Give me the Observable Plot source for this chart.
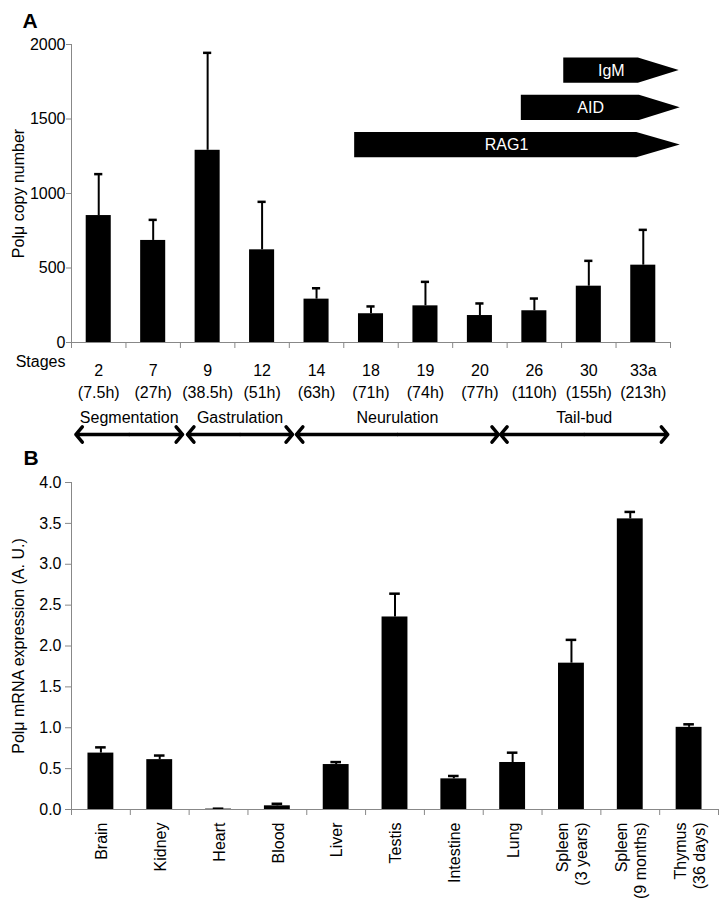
<!DOCTYPE html>
<html><head><meta charset="utf-8">
<script src="https://cdn.jsdelivr.net/npm/d3@7"></script>
<script src="https://cdn.jsdelivr.net/npm/@observablehq/plot@0.6"></script>
<style>
body{margin:0;background:#fff;}
#wrap{position:relative;width:725px;height:909px;overflow:hidden;}
#wrap > svg{position:absolute;left:0;}
</style></head><body><div id="wrap"></div>
<script>
// ---------- Panel A data ----------
const stages = ["2","7","9","12","14","18","19","20","26","30","33a"];
const stageHours = ["(7.5h)","(27h)","(38.5h)","(51h)","(63h)","(71h)","(74h)","(77h)","(110h)","(155h)","(213h)"];
const copyNumber = [852, 685, 1290, 622, 291, 193, 246, 181, 213, 378, 519];
const copyNumberSD = [278, 138, 654, 322, 73, 49, 161, 81, 82, 170, 237];
const copyTicks = [0, 500, 1000, 1500, 2000];

// developmental phases (extent along the stage axis, in stage-index units)
const phases = ["Segmentation", "Gastrulation", "Neurulation", "Tail-bud"];
const phaseFrom = [-0.42, 1.63, 3.63, 7.38];
const phaseTo = [1.54, 3.56, 7.34, 10.45];

// gene expression onset arrows (stage-index units)
const genes = ["IgM", "AID", "RAG1"];
const geneFrom = [8.54, 7.76, 4.70];
const geneNotch = [9.91, 9.93, 9.88];
const geneTip = [10.66, 10.68, 10.68];

// ---------- Panel B data ----------
const tissues = ["Brain","Kidney","Heart","Blood","Liver","Testis","Intestine","Lung","Spleen\n(3 years)","Spleen\n(9 months)","Thymus\n(36 days)"];
const expression = [0.69, 0.61, 0.005, 0.045, 0.55, 2.355, 0.375, 0.575, 1.79, 3.555, 1.005];
const expressionSD = [0.07, 0.05, 0.005, 0.025, 0.03, 0.285, 0.035, 0.12, 0.285, 0.085, 0.037];
const exprTicks = [0, 0.5, 1, 1.5, 2, 2.5, 3, 3.5, 4];

const font = "'Liberation Sans', Arial, sans-serif";
const gray = "#888";
const wrap = document.getElementById("wrap");

// ---------- Panel A ----------
const idxA = d3.range(stages.length);
const dataA = idxA.map(i => ({i, v: copyNumber[i], e: copyNumber[i] + copyNumberSD[i]}));
const rowCenter = r => 1825 - r * 250;
const rowHalf = 85;
const geneShapes = genes.flatMap((g, r) => [
  {g, x: geneFrom[r], y1: rowCenter(r) - rowHalf, y2: rowCenter(r) + rowHalf},
  {g, x: geneNotch[r], y1: rowCenter(r) - rowHalf, y2: rowCenter(r) + rowHalf},
  {g, x: geneTip[r], y1: rowCenter(r), y2: rowCenter(r)}
]);
const phaseMid = (d, i) => (phaseFrom[i] + phaseTo[i]) / 2;

const plotA = Plot.plot({
  width: 725, height: 450,
  marginLeft: 71, marginRight: 55, marginTop: 44, marginBottom: 108,
  x: {domain: [-0.5, stages.length - 0.5]},
  y: {domain: [0, 2000]},
  style: {fontFamily: font, fontSize: "16px", background: "transparent", overflow: "visible", color: "black"},
  marks: [
    Plot.rect(dataA, {x1: d => d.i - 0.23, x2: d => d.i + 0.23, y1: 0, y2: "v", fill: "black"}),
    Plot.ruleX(dataA, {x: "i", y1: "v", y2: "e", stroke: "black", strokeWidth: 2}),
    Plot.ruleY(dataA, {y: "e", x1: d => d.i - 0.075, x2: d => d.i + 0.075, stroke: "black", strokeWidth: 2.5}),
    Plot.ruleY([0], {stroke: gray}),
    Plot.ruleX([-0.5], {stroke: gray}),
    Plot.axisY({ticks: copyTicks, tickFormat: d => String(d), tickSize: 5, tickPadding: 1, stroke: gray, fill: "black", label: null, fontSize: 16}),
    Plot.axisX({ticks: d3.range(-0.5, stages.length), tickSize: 6, tickFormat: () => "", stroke: gray, label: null}),
    Plot.axisX({ticks: idxA, tickSize: 0, tickPadding: 18, tickFormat: i => stages[i] + "\n" + stageHours[i], lineHeight: 1.375, label: null, fontSize: 16, fill: "black"}),
    Plot.text(["Stages"], {frameAnchor: "bottom-left", dx: -6, dy: 24, textAnchor: "end", fontSize: 16}),
    Plot.text(["Polμ copy number"], {frameAnchor: "left", dx: -53, rotate: -90, textAnchor: "middle", lineAnchor: "middle", fontSize: 16}),
    Plot.text(["A"], {frameAnchor: "top-left", dx: -49, dy: -31, textAnchor: "start", lineAnchor: "top", fontWeight: "bold", fontSize: 21}),
    // gene onset arrows
    Plot.areaY(geneShapes, {x: "x", y1: "y1", y2: "y2", z: "g", fill: "black", curve: "linear"}),
    Plot.text(genes, {x: (g, r) => (geneFrom[r] + (geneNotch[r] + geneTip[r]) / 2) / 2, y: (g, r) => rowCenter(r), text: d => d, fill: "white", fontSize: 16}),
    // developmental phases
    Plot.text(phases, {x: phaseMid, y: 0, dy: 75, text: d => d, fontSize: 16}),
    Plot.arrow(phases, {x1: phaseMid, x2: (d, i) => phaseFrom[i], y1: 0, y2: 0, dy: 92, stroke: "black", strokeWidth: 3.5, headAngle: 100, headLength: 4.3}),
    Plot.arrow(phases, {x1: phaseMid, x2: (d, i) => phaseTo[i], y1: 0, y2: 0, dy: 92, stroke: "black", strokeWidth: 3.5, headAngle: 100, headLength: 4.3})
  ]
});
plotA.style.top = "0px";
wrap.appendChild(plotA);

// ---------- Panel B ----------
const idxB = d3.range(tissues.length);
const dataB = idxB.map(i => ({i, v: expression[i], e: expression[i] + expressionSD[i]}));
const plotB = Plot.plot({
  width: 725, height: 469,
  marginLeft: 71, marginRight: 7, marginTop: 42, marginBottom: 100,
  x: {domain: [-0.5, tissues.length - 0.5]},
  y: {domain: [0, 4]},
  style: {fontFamily: font, fontSize: "16px", background: "transparent", overflow: "visible", color: "black"},
  marks: [
    Plot.rect(dataB, {x1: d => d.i - 0.22, x2: d => d.i + 0.22, y1: 0, y2: "v", fill: "black"}),
    Plot.ruleX(dataB, {x: "i", y1: "v", y2: "e", stroke: "black", strokeWidth: 2}),
    Plot.ruleY(dataB, {y: "e", x1: d => d.i - 0.09, x2: d => d.i + 0.09, stroke: "black", strokeWidth: 2.5}),
    Plot.ruleY([0], {stroke: gray}),
    Plot.ruleX([-0.5], {stroke: gray}),
    Plot.axisY({ticks: exprTicks, tickFormat: d3.format(".1f"), tickSize: 6, tickPadding: 4, stroke: gray, fill: "black", label: null, fontSize: 16}),
    Plot.axisX({ticks: d3.range(-0.5, tissues.length), tickSize: 6, tickFormat: () => "", stroke: gray, label: null}),
    Plot.axisX({ticks: idxB, tickSize: 0, tickPadding: 13, tickRotate: -90, textAnchor: "end", lineAnchor: "middle", tickFormat: i => tissues[i], lineHeight: 1.2, label: null, fontSize: 16, fill: "black"}),
    Plot.text(["Polμ mRNA expression (A. U.)"], {frameAnchor: "left", dx: -53, rotate: -90, textAnchor: "middle", lineAnchor: "middle", fontSize: 16}),
    Plot.text(["B"], {frameAnchor: "top-left", dx: -48, dy: -32, textAnchor: "start", lineAnchor: "top", fontWeight: "bold", fontSize: 21})
  ]
});
plotB.style.top = "440px";
wrap.appendChild(plotB);
</script>
</body></html>
